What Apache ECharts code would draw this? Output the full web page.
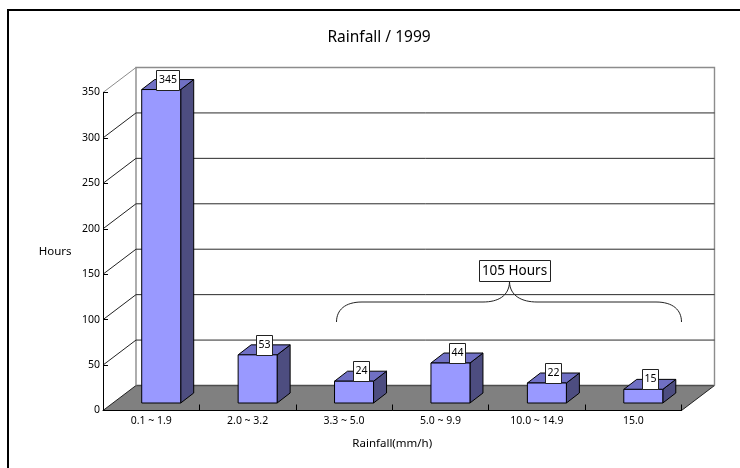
<!DOCTYPE html>
<html><head><meta charset="utf-8">
<style>html,body{margin:0;padding:0;background:#fff}#c{width:740px;height:468px}</style>
<script src="https://cdn.jsdelivr.net/npm/echarts@6/dist/echarts.min.js"></script>
</head><body><div id="c"></div>
<script>
const categories = ['0.1 ~ 1.9','2.0 ~ 3.2','3.3 ~ 5.0','5.0 ~ 9.9','10.0 ~ 14.9','15.0'];
const hours = [345,53,24,44,22,15];
const yTicks = [50,100,150,200,250,300,350];
const titleText = 'Rainfall / 1999';
const yName = 'Hours';
const xName = 'Rainfall(mm/h)';
const braceText = '105 Hours';

const FONT = '"Noto Sans", sans-serif';
const WALL_DX = 33, WALL_DY = -25;      // depth of the 3D box
const BAR_DX = 13, BAR_DY = -10;        // depth of a 3D bar
const BAR_W = 39;
const BAR_SHIFT_X = 10, BAR_SHIFT_Y = -7.5;

const chart = echarts.init(document.getElementById('c'), null, {renderer:'canvas'});

function renderWalls(params, api){
  const cs = params.coordSys;
  const x0 = cs.x, x1 = cs.x + cs.width, y0 = cs.y + cs.height, yTop = cs.y;
  const els = [];
  els.push({type:'polygon', shape:{points:[[x0,y0],[x0+WALL_DX,y0+WALL_DY],[x1+WALL_DX,y0+WALL_DY],[x1,y0]]},
    style:{fill:'#808080', lineWidth:0}});
  els.push({type:'line', shape:{x1:x0,y1:y0,x2:x0+WALL_DX,y2:y0+WALL_DY}, style:{stroke:'#222',lineWidth:1}});
  els.push({type:'line', shape:{x1:x1,y1:y0,x2:x1+WALL_DX,y2:y0+WALL_DY}, style:{stroke:'#222',lineWidth:1}});
  els.push({type:'line', shape:{x1:x0+WALL_DX,y1:y0+WALL_DY,x2:x1+WALL_DX,y2:y0+WALL_DY}, style:{stroke:'#4d4d4d',lineWidth:1.5}});
  const gray = '#8c8c8c';
  els.push({type:'polyline', shape:{points:[[x0+WALL_DX,y0+WALL_DY],[x0+WALL_DX,yTop+WALL_DY],[x1+WALL_DX,yTop+WALL_DY],[x1+WALL_DX,y0+WALL_DY]]},
    style:{stroke:gray,lineWidth:1.4,fill:null}});
  els.push({type:'line', shape:{x1:x0,y1:yTop,x2:x0+WALL_DX,y2:yTop+WALL_DY}, style:{stroke:gray,lineWidth:1}});
  yTicks.forEach(function(t){
    const y = api.coord([0,t])[1];
    if (t < yTicks[yTicks.length-1]) {
      els.push({type:'line', shape:{x1:x0,y1:y,x2:x0+WALL_DX,y2:y+WALL_DY}, style:{stroke:'#222',lineWidth:1}});
      els.push({type:'line', shape:{x1:x0+WALL_DX,y1:y+WALL_DY,x2:x1+WALL_DX,y2:y+WALL_DY}, style:{stroke:'#2a2a2a',lineWidth:1}});
    }
  });
  return {type:'group', children:els};
}

function renderBar(params, api){
  const i = api.value(0), v = api.value(1);
  const top = api.coord([i,v]), base = api.coord([i,0]);
  const cx = top[0] + BAR_SHIFT_X;
  const l = cx - BAR_W/2, r = cx + BAR_W/2;
  const yb = base[1] + BAR_SHIFT_Y, yt = top[1] + BAR_SHIFT_Y;
  const line = {stroke:'#000', lineWidth:1, lineJoin:'miter'};
  const label = String(v);
  const boxW = label.length > 2 ? 23 : 16, boxH = 20;
  const bx = Math.round(cx + 6.5 - boxW/2) + 0.5;
  const by = Math.round(yt - boxH) + 0.5;
  return {type:'group', children:[
    {type:'polygon', shape:{points:[[r,yb],[r+BAR_DX,yb+BAR_DY],[r+BAR_DX,yt+BAR_DY],[r,yt]]}, style:Object.assign({fill:'#4d4d80'},line)},
    {type:'polygon', shape:{points:[[l,yt],[l+BAR_DX,yt+BAR_DY],[r+BAR_DX,yt+BAR_DY],[r,yt]]}, style:Object.assign({fill:'#7070c4'},line)},
    {type:'rect', shape:{x:l,y:yt,width:BAR_W,height:yb-yt}, style:Object.assign({fill:'#9999ff'},line)},
    {type:'rect', shape:{x:bx,y:by,width:boxW,height:boxH}, style:{fill:'#fff',stroke:'#222',lineWidth:1}},
    {type:'text', x:bx+boxW/2, y:by+boxH/2, style:{text:label,font:'10.5px '+FONT,fill:'#000',align:'center',verticalAlign:'middle'}}
  ]};
}

const brace = {stroke:'#222',lineWidth:1,fill:null};
chart.setOption({
  animation:false,
  backgroundColor:'#fff',
  title:{text:titleText,left:374,top:25,textAlign:'center',textStyle:{fontFamily:FONT,fontSize:15.5,fontWeight:'normal',color:'#000'}},
  grid:{left:103,right:58.5,top:92.5,bottom:57.5,containLabel:false},
  xAxis:{type:'category',z:5,data:categories,name:xName,nameLocation:'middle',nameGap:27,
    nameTextStyle:{fontFamily:FONT,fontSize:11.5,color:'#000'},
    axisLine:{show:true,lineStyle:{color:'#000',width:1}},
    axisTick:{show:true,inside:true,length:6,lineStyle:{color:'#000'}},
    axisLabel:{fontFamily:FONT,fontSize:10.5,color:'#000',margin:5,interval:0},
    splitLine:{show:false}},
  yAxis:{type:'value',z:5,min:0,max:350,interval:50,name:yName,nameLocation:'middle',nameGap:31.5,nameRotate:0,
    nameTextStyle:{fontFamily:FONT,fontSize:11.5,color:'#000'},
    axisLine:{show:true,lineStyle:{color:'#000',width:1}},
    axisTick:{show:true,inside:true,length:5,lineStyle:{color:'#000'}},
    axisLabel:{fontFamily:FONT,fontSize:10.5,color:'#000',margin:3},
    splitLine:{show:false}},
  series:[
    {type:'custom',z:1,silent:true,renderItem:renderWalls,data:[[0,0]],clip:false,encode:{x:0,y:1}},
    {type:'custom',z:6,silent:true,renderItem:renderBar,data:hours.map((v,i)=>[i,v]),clip:false,encode:{x:0,y:1}}
  ],
  graphic:[
    {type:'polyline',z:0,shape:{points:[[8,468],[8,10],[740,10]]},style:{stroke:'#000',lineWidth:2,fill:null}},
    {type:'bezierCurve',z:10,shape:{x1:336.5,y1:322,cpx1:336.5,cpy1:310,cpx2:345,cpy2:302,x2:362,y2:302},style:brace},
    {type:'line',z:10,shape:{x1:362,y1:302,x2:483,y2:302},style:brace},
    {type:'bezierCurve',z:10,shape:{x1:483,y1:302,cpx1:498,cpy1:302,cpx2:509,cpy2:296,x2:509.5,y2:282},style:brace},
    {type:'bezierCurve',z:10,shape:{x1:509.5,y1:282,cpx1:510,cpy1:296,cpx2:522,cpy2:302,x2:537,y2:302},style:brace},
    {type:'line',z:10,shape:{x1:537,y1:302,x2:656,y2:302},style:brace},
    {type:'bezierCurve',z:10,shape:{x1:656,y1:302,cpx1:673,cpy1:302,cpx2:681.5,cpy2:310,x2:681.5,y2:322},style:brace},
    {type:'rect',z:11,shape:{x:479.5,y:260.5,width:71,height:21},style:{fill:'#fff',stroke:'#222',lineWidth:1}},
    {type:'text',z:12,x:514.5,y:271,style:{text:braceText,font:'13.5px '+FONT,fill:'#000',align:'center',verticalAlign:'middle'}}
  ]
});
</script></body></html>
